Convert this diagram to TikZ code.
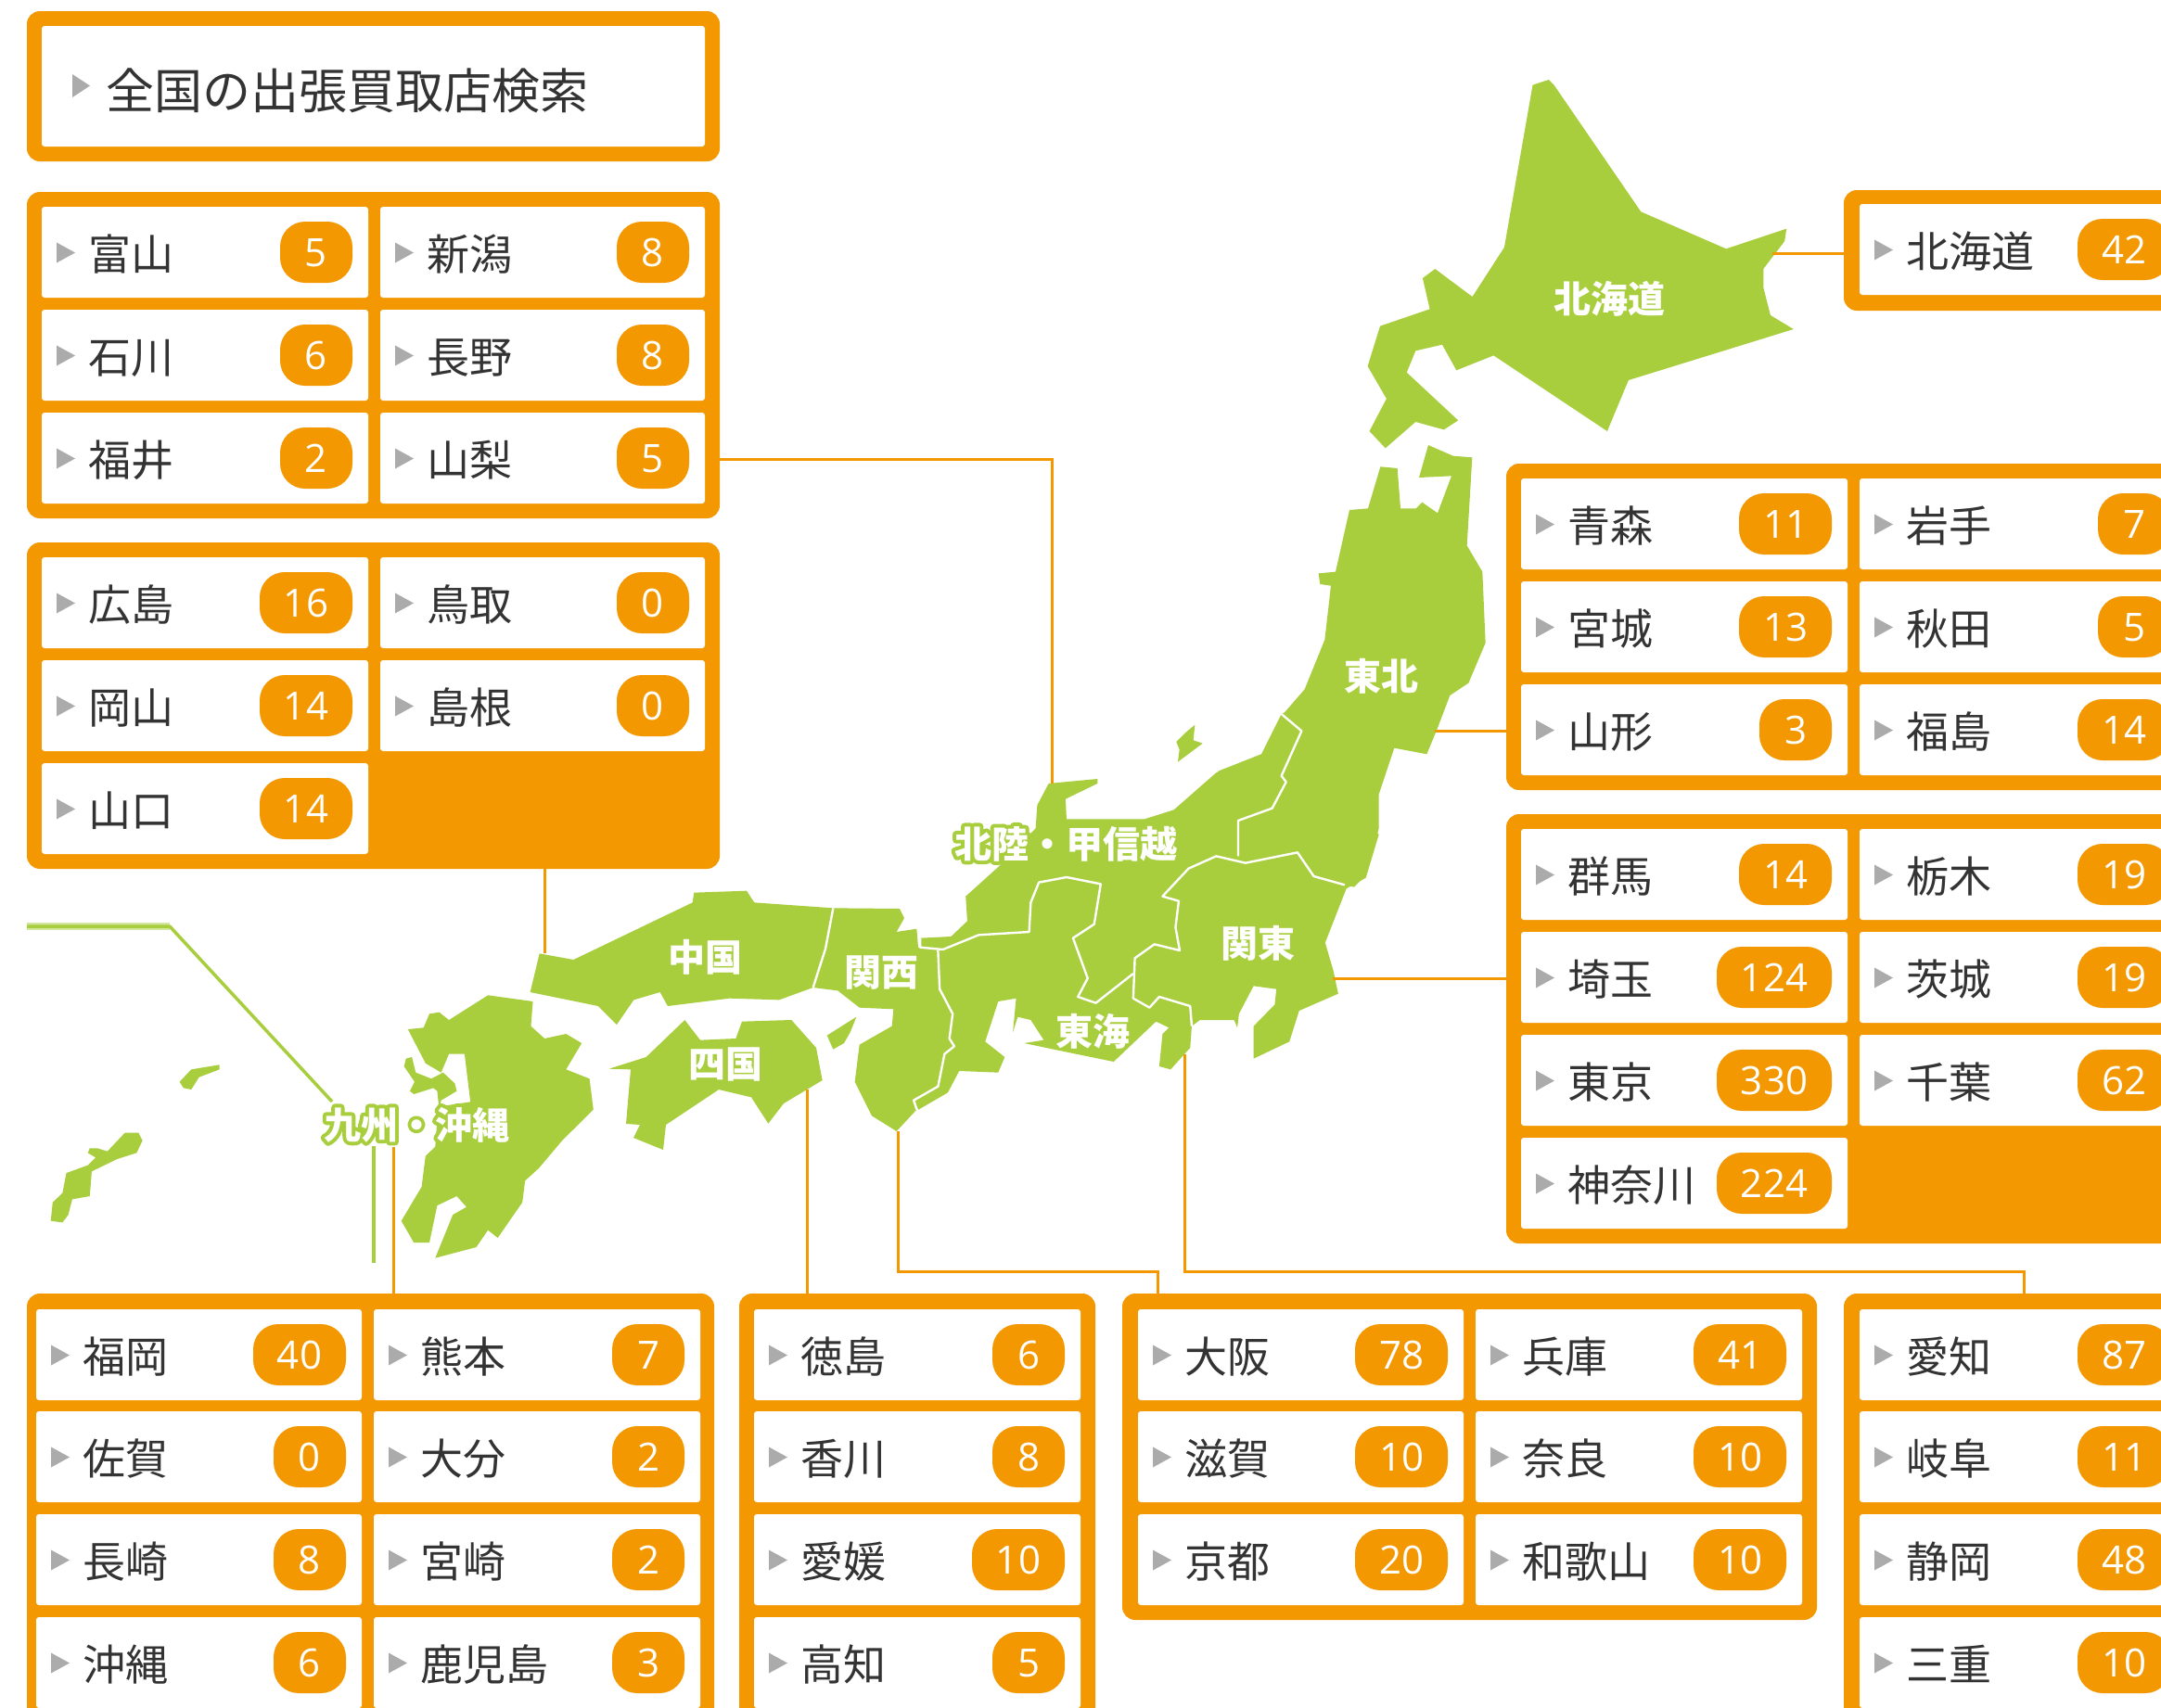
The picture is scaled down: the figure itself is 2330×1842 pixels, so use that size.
\documentclass[tikz,border=0pt]{standalone}
\usepackage{fontspec}
\setmainfont{Noto Sans CJK JP}
\newfontfamily\numfont{Open Sans}
\definecolor{orng}{HTML}{F39800}
\definecolor{grn}{HTML}{A8CE3E}
\definecolor{lgrn}{HTML}{D3E6A0}
\definecolor{txt}{HTML}{333333}
\definecolor{tri}{HTML}{ABABAB}
\newcounter{pc}
\newcommand{\halotext}[1]{\special{pdf:code q 2 Tr 8 w 1 j 0.659 0.808 0.243 RG 0.659 0.808 0.243 rg}#1\special{pdf:code Q}}
\tikzset{
  panel/.style={fill=orng,rounded corners=14pt,inner sep=0pt,outer sep=0pt,anchor=north west},
  cellbox/.style={fill=white,rounded corners=3pt,inner sep=0pt,outer sep=0pt,anchor=north west,minimum height=98pt},
  badge/.style={fill=orng,rounded corners=27pt,inner sep=0pt,outer sep=0pt,minimum height=66pt,text=white,text height=30pt,text depth=0pt,font=\numfont\fontsize{42}{42}\selectfont},
  preftext/.style={inner sep=0pt,outer sep=0pt,anchor=base west,text=txt,font=\fontsize{46}{46}\selectfont},
  reglabel/.style={inner sep=0pt,outer sep=0pt,anchor=base,text=white,font=\bfseries\fontsize{40}{40}\selectfont},
  conn/.style={draw=orng,line width=3pt},
  land/.style={fill=grn},
  border/.style={draw=white,line width=2.4pt,line join=round},
  zoomA/.style={shift={(1400pt,-60pt)},x=0.38265pt,y=-0.33333pt},
  zoomB/.style={shift={(1150pt,-460pt)},x=0.33333pt,y=-0.33333pt},
  zoomC/.style={shift={(950pt,-820pt)},x=0.35077pt,y=-0.33333pt},
  zoomD/.style={shift={(540pt,-930pt)},x=0.33333pt,y=-0.33333pt},
  zoomE/.style={shift={(0pt,-980pt)},x=0.42092pt,y=-0.33333pt},
}
% #1 x, #2 y, #3 width, #4 name, #5 number, #6 badge width
\newcommand{\pref}[6]{%
  \stepcounter{pc}%
  \begin{scope}[shift={(#1pt,-#2pt)}]
    \pgfmathsetmacro\bx{#3-17-#6/2}
    \node[cellbox,minimum width=#3pt] (cell\thepc) at (0,0) {};
    \fill[tri] (16,38.5) -- (36,49.5) -- (16,60.5) -- cycle;
    \node[preftext] (name\thepc) at (50,68.5) {#4};
    \node[badge,minimum width=#6pt] (num\thepc) at (\bx,49) {#5};
  \end{scope}}
\begin{document}
\begin{tikzpicture}[x=1pt,y=-1pt]
\useasboundingbox (0,0) rectangle (2330,1842);
\clip (0,0) rectangle (2330,1842);
\fill[white] (0,0) rectangle (2330,1842);

% ---------- map ----------
\begin{scope}[zoomA]
\fill[land] (660,95) -- (705,78) -- (720,95) -- (965,505) -- (1205,625) -- (1375,560) -- (1370,600) -- (1310,690) -- (1310,750) -- (1330,840) -- (1395,885) -- (930,1050) -- (870,1215) -- (550,970) -- (445,1018) -- (405,935) -- (330,955) -- (305,1025) -- (450,1180) -- (410,1210) -- (330,1185) -- (245,1270) -- (200,1215) -- (248,1110) -- (195,1005) -- (230,875) -- (370,820) -- (350,720) -- (385,690) -- (490,780) -- (580,620) -- cycle;
\end{scope}
\begin{scope}[zoomB]
\fill[land] (1015,130) -- (1070,135) -- (1080,265) -- (1130,265) -- (1150,245) -- (1200,280) -- (1245,160) -- (1140,165) -- (1170,60) -- (1250,95) -- (1312,100) -- (1295,385) -- (1345,470) -- (1355,700) -- (1300,830) -- (1240,870) -- (1200,975) -- (1165,1060) -- (1060,1040) -- (1010,1190) -- (1010,1300) -- (970,1450) -- (930,1490) -- (560,1400) -- (490,1115) -- (630,1060) -- (695,930) -- (705,925) -- (770,850) -- (835,690) -- (855,515) -- (820,510) -- (815,475) -- (870,470) -- (915,270) -- (975,265) -- cycle;
\fill[land] (355,1020) -- (385,990) -- (415,965) -- (410,1015) -- (440,1025) -- (360,1085) -- (365,1045) -- cycle;
\end{scope}
\begin{scope}[zoomC]
\fill[land] (1530,240) -- (1400,100) -- (1170,-20) -- (1030,40) -- (900,160) -- (810,190) -- (570,190) -- (567,125) -- (665,75) -- (665,60) -- (515,75) -- (480,145) -- (475,220) -- (360,345) -- (260,440) -- (265,520) -- (215,570) -- (120,575) -- (120,610) -- (160,620) -- (160,740) -- (190,800) -- (190,900) -- (175,950) -- (150,1050) -- (95,1100) -- (115,1130) -- (205,1075) -- (240,1005) -- (360,1010) -- (380,960) -- (320,910) -- (360,780) -- (415,770) -- (405,880) -- (420,830) -- (460,840) -- (500,905) -- (440,915) -- (530,935) -- (715,975) -- (845,845) -- (885,865) -- (865,885) -- (855,990) -- (890,1000) -- (950,930) -- (955,860) -- (980,840) -- (1085,840) -- (1095,865) -- (1100,820) -- (1145,730) -- (1215,740) -- (1210,790) -- (1145,860) -- (1145,965) -- (1255,910) -- (1285,810) -- (1405,755) -- (1390,680) -- (1365,590) -- (1430,415) -- (1490,380) -- cycle;
\end{scope}
\begin{scope}[zoomD]
\fill[land] (1075,148) -- (1290,150) -- (1305,180) -- (1280,225) -- (1345,215) -- (1350,275) -- (1420,290) -- (1430,420) -- (1470,500) -- (1470,600) -- (1425,705) -- (1345,770) -- (1345,800) -- (1280,870) -- (1200,820) -- (1145,710) -- (1160,590) -- (1265,530) -- (1270,475) -- (1160,470) -- (1090,415) -- (1010,405) -- cycle;
\fill[land] (125,295) -- (235,315) -- (620,130) -- (625,98) -- (795,92) -- (820,130) -- (1075,148) -- (1050,280) -- (1010,405) -- (900,445) -- (740,440) -- (540,465) -- (515,420) -- (430,445) -- (375,525) -- (315,465) -- (95,420) -- cycle;
\fill[land] (350,668) -- (470,630) -- (595,510) -- (645,575) -- (760,570) -- (780,515) -- (940,510) -- (1020,600) -- (1040,705) -- (990,735) -- (915,780) -- (865,845) -- (810,760) -- (705,735) -- (534,849) -- (525,930) -- (429,891) -- (450,849) -- (405,846) -- (420,670) -- cycle;
\fill[land] (1055,560) -- (1150,500) -- (1130,550) -- (1110,585) -- (1075,605) -- cycle;
\draw[border] (1075,148) -- (1050,280) -- (1010,405);
\end{scope}
\begin{scope}[zoomE]
\fill[land] (1045,390) -- (1085,385) -- (1100,340) -- (1125,335) -- (1150,360) -- (1250,280) -- (1365,300) -- (1360,380) -- (1395,420) -- (1450,405) -- (1490,435) -- (1450,520) -- (1510,550) -- (1520,650) -- (1440,750) -- (1380,840) -- (1345,880) -- (1338,950) -- (1275,1065) -- (1250,1040) -- (1220,1095) -- (1115,1130) -- (1160,990) -- (1195,965) -- (1170,930) -- (1120,960) -- (1100,1080) -- (1060,1080) -- (1028,1010) -- (1080,900) -- (1090,800) -- (1115,770) -- (1120,680) -- (1125,640) -- (1205,625) -- (1190,470) -- (1150,470) -- (1130,530) -- (1090,500) -- cycle;
\fill[land] (1040,485) -- (1055,480) -- (1065,530) -- (1105,550) -- (1135,530) -- (1165,565) -- (1170,590) -- (1130,620) -- (1125,650) -- (1120,590) -- (1110,580) -- (1060,600) -- (1050,590) -- (1062,560) -- (1035,510) -- cycle;
\fill[land] (130,1010) -- (135,950) -- (160,920) -- (170,855) -- (225,830) -- (245,805) -- (225,790) -- (230,775) -- (250,775) -- (275,785) -- (320,725) -- (355,725) -- (365,750) -- (350,790) -- (300,810) -- (235,850) -- (230,930) -- (185,940) -- (175,990) -- (160,1015) -- cycle;
\fill[land] (460,560) -- (490,520) -- (562,505) -- (562,520) -- (510,545) -- (490,585) -- (470,580) -- cycle;
\end{scope}
\begin{scope}[zoomB]
\draw[border] (695,930) -- (760,985) -- (695,1130) -- (710,1150) -- (665,1235) -- (555,1275) -- (555,1390);
\end{scope}
\begin{scope}[zoomC]
\draw[border] (1425,403) -- (1330,375) -- (1280,298) -- (1120,332) -- (1030,310) -- (945,350) -- (865,440) -- (915,455) -- (905,540) -- (918,615) -- (840,595) -- (780,640) -- (775,770) -- (825,800) -- (855,765) -- (950,795) -- (955,860);
\draw[border] (775,690) -- (660,785) -- (605,765) -- (635,705) -- (590,575) -- (655,530) -- (675,400) -- (570,378) -- (485,395) -- (460,460) -- (455,555) -- (300,565) -- (190,612) -- (120,605) -- (120,575);
\draw[border] (175,615) -- (180,740) -- (220,820) -- (210,900) -- (225,925) -- (195,950) -- (175,1055) -- (100,1100) -- (110,1130);
\end{scope}

% ---------- green leader of the Okinawa inset ----------
\coordinate (insetL) at (29,999);
\coordinate (insetK) at (183,999);
\coordinate (insetD) at (358,1188);
\coordinate (insetT) at (403,1236);
\coordinate (insetB) at (403,1362);
\draw[lgrn,line width=8pt] (insetL) -- (insetK);
\draw[grn,line width=3.5pt,line join=round] (insetL) -- (insetK) -- (insetD);
\draw[grn,line width=4pt] (insetT) -- (insetB);

% ---------- panels ----------
\node[panel,minimum width=747pt,minimum height=162pt] (titlePanel) at (29,12) {};
\node[panel,minimum width=747pt,minimum height=352pt] (hokurikuPanel) at (29,207) {};
\node[panel,minimum width=747pt,minimum height=352pt] (chugokuPanel) at (29,585) {};
\node[panel,minimum width=500pt,minimum height=130pt] (hokkaidoPanel) at (1988,205) {};
\node[panel,minimum width=900pt,minimum height=352pt] (tohokuPanel) at (1624,500) {};
\node[panel,minimum width=900pt,minimum height=463pt] (kantoPanel) at (1624,878) {};
\node[panel,minimum width=741pt,minimum height=600pt] (kyushuPanel) at (29,1395) {};
\node[panel,minimum width=384pt,minimum height=600pt] (shikokuPanel) at (797,1395) {};
\node[panel,minimum width=749pt,minimum height=352pt] (kansaiPanel) at (1210,1395) {};
\node[panel,minimum width=500pt,minimum height=600pt] (tokaiPanel) at (1988,1395) {};

% ---------- connectors ----------
\coordinate (hokkaidoMap) at (1911,273);
\coordinate (hokkaidoBox) at (1988,273);
\coordinate (tohokuMap) at (1547,788);
\coordinate (tohokuBox) at (1624,788);
\coordinate (kantoMap) at (1437,1055);
\coordinate (kantoBox) at (1624,1055);
\coordinate (hokurikuBox) at (776,495);
\coordinate (hokurikuCorner) at (1134,495);
\coordinate (hokurikuMap) at (1134,845);
\coordinate (chugokuBox) at (587,936);
\coordinate (chugokuMap) at (587,1028);
\coordinate (kyushuMap) at (424,1237);
\coordinate (kyushuBox) at (424,1395);
\coordinate (shikokuMap) at (870,1175);
\coordinate (shikokuBox) at (870,1395);
\coordinate (kansaiMap) at (968,1220);
\coordinate (kansaiA) at (968,1371);
\coordinate (kansaiB) at (1248,1371);
\coordinate (kansaiBox) at (1248,1395);
\coordinate (tokaiMap) at (1277,1137);
\coordinate (tokaiA) at (1277,1371);
\coordinate (tokaiB) at (2182,1371);
\coordinate (tokaiBox) at (2182,1395);
\draw[conn] (hokkaidoMap) -- (hokkaidoBox);
\draw[conn] (tohokuMap) -- (tohokuBox);
\draw[conn] (kantoMap) -- (kantoBox);
\draw[conn] (hokurikuBox) -- (hokurikuCorner) -- (hokurikuMap);
\draw[conn] (chugokuBox) -- (chugokuMap);
\draw[conn] (kyushuMap) -- (kyushuBox);
\draw[conn] (shikokuMap) -- (shikokuBox);
\draw[conn] (kansaiMap) -- (kansaiA) -- (kansaiB) -- (kansaiBox);
\draw[conn] (tokaiMap) -- (tokaiA) -- (tokaiB) -- (tokaiBox);

% ---------- region labels ----------
\node[reglabel,text=grn] (haloHokuriku) at (1149,925) {\halotext{北陸・甲信越}};
\node[reglabel,text=grn] (haloKyushu) at (449,1228) {\halotext{九州・沖縄}};
\node[reglabel] (lblHokkaido) at (1735,337) {北海道};
\node[reglabel] (lblTohoku) at (1489,744) {東北};
\node[reglabel] (lblHokuriku) at (1149,925) {北陸・甲信越};
\node[reglabel] (lblKanto) at (1356,1032) {関東};
\node[reglabel] (lblTokai) at (1178,1127) {東海};
\node[reglabel] (lblKansai) at (950,1063) {関西};
\node[reglabel] (lblChugoku) at (760,1047) {中国};
\node[reglabel] (lblShikoku) at (782,1162) {四国};
\node[reglabel] (lblKyushu) at (449,1228) {九州・沖縄};

% ---------- title ----------
\node[cellbox,minimum width=715pt,minimum height=130pt] (titleCell) at (45,28) {};
\fill[tri] (78,80) -- (97,92.5) -- (78,105) -- cycle;
\node[preftext,font=\fontsize{52}{52}\selectfont] (titleText) at (114,117) {全国の出張買取店検索};

% ---------- prefecture cells ----------
\pref{45}{223}{352}{富山}{5}{78}
\pref{410}{223}{350}{新潟}{8}{78}
\pref{45}{334}{352}{石川}{6}{78}
\pref{410}{334}{350}{長野}{8}{78}
\pref{45}{445}{352}{福井}{2}{78}
\pref{410}{445}{350}{山梨}{5}{78}

\pref{45}{601}{352}{広島}{16}{100}
\pref{410}{601}{350}{鳥取}{0}{78}
\pref{45}{712}{352}{岡山}{14}{100}
\pref{410}{712}{350}{島根}{0}{78}
\pref{45}{823}{352}{山口}{14}{100}

\pref{2005}{220}{352}{北海道}{42}{100}

\pref{1640}{516}{352}{青森}{11}{100}
\pref{2005}{516}{352}{岩手}{7}{78}
\pref{1640}{627}{352}{宮城}{13}{100}
\pref{2005}{627}{352}{秋田}{5}{78}
\pref{1640}{738}{352}{山形}{3}{78}
\pref{2005}{738}{352}{福島}{14}{100}

\pref{1640}{894}{352}{群馬}{14}{100}
\pref{2005}{894}{352}{栃木}{19}{100}
\pref{1640}{1005}{352}{埼玉}{124}{124}
\pref{2005}{1005}{352}{茨城}{19}{100}
\pref{1640}{1116}{352}{東京}{330}{124}
\pref{2005}{1116}{352}{千葉}{62}{100}
\pref{1640}{1227}{352}{神奈川}{224}{124}

\pref{39}{1412}{351}{福岡}{40}{100}
\pref{403}{1412}{352}{熊本}{7}{78}
\pref{39}{1522}{351}{佐賀}{0}{78}
\pref{403}{1522}{352}{大分}{2}{78}
\pref{39}{1633}{351}{長崎}{8}{78}
\pref{403}{1633}{352}{宮崎}{2}{78}
\pref{39}{1744}{351}{沖縄}{6}{78}
\pref{403}{1744}{352}{鹿児島}{3}{78}

\pref{813}{1412}{352}{徳島}{6}{78}
\pref{813}{1522}{352}{香川}{8}{78}
\pref{813}{1633}{352}{愛媛}{10}{100}
\pref{813}{1744}{352}{高知}{5}{78}

\pref{1227}{1412}{351}{大阪}{78}{100}
\pref{1591}{1412}{352}{兵庫}{41}{100}
\pref{1227}{1522}{351}{滋賀}{10}{100}
\pref{1591}{1522}{352}{奈良}{10}{100}
\pref{1227}{1633}{351}{京都}{20}{100}
\pref{1591}{1633}{352}{和歌山}{10}{100}

\pref{2005}{1412}{352}{愛知}{87}{100}
\pref{2005}{1522}{352}{岐阜}{11}{100}
\pref{2005}{1633}{352}{静岡}{48}{100}
\pref{2005}{1744}{352}{三重}{10}{100}
\end{tikzpicture}
\end{document}
